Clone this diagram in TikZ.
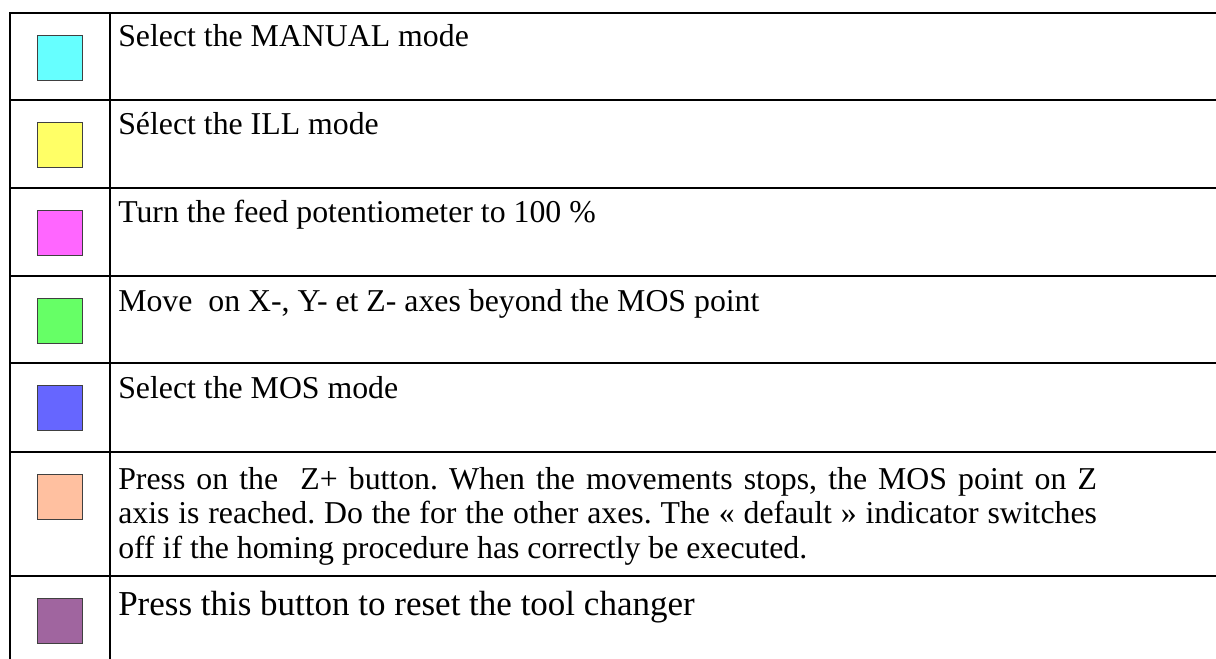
\documentclass[tikz,border=0pt]{standalone}
\usepackage{fontspec}
\setmainfont{Liberation Serif}
\frenchspacing
\definecolor{keycyan}{HTML}{66FFFF}
\definecolor{keyyellow}{HTML}{FFFF66}
\definecolor{keymagenta}{HTML}{FF66FF}
\definecolor{keygreen}{HTML}{66FF66}
\definecolor{keyblue}{HTML}{6666FF}
\definecolor{keypeach}{HTML}{FFC0A0}
\definecolor{keypurple}{HTML}{A0659F}
\begin{document}
\begin{tikzpicture}[x=0.75pt, y=-0.75pt,
    rule/.style={line width=1.1pt, black},
    key/.style={draw=black!75, line width=0.5pt, minimum size=33.75pt, inner sep=0pt, anchor=north west},
    info/.style={anchor=base west, inner sep=0pt, font=\fontsize{23.85}{25.9}\selectfont},
    biginfo/.style={anchor=base west, inner sep=0pt, font=\fontsize{26.25}{30}\selectfont}]
    \useasboundingbox (0,0) rectangle (1216,659);
    % grid of the table
    \draw[rule] (1216,13) -- (10,13) -- (10,659);
    \draw[rule] (110,13) -- (110,659);
    \draw[rule] (10,100) -- (1216,100);
    \draw[rule] (10,188) -- (1216,188);
    \draw[rule] (10,276) -- (1216,276);
    \draw[rule] (10,363) -- (1216,363);
    \draw[rule] (10,452) -- (1216,452);
    \draw[rule] (10,576) -- (1216,576);
    % colour keys
    \node[key, fill=keycyan] (manual) at (37,35) {};
    \node[key, fill=keyyellow] (ill) at (37,122) {};
    \node[key, fill=keymagenta] (feed) at (37,210) {};
    \node[key, fill=keygreen] (move) at (37,298) {};
    \node[key, fill=keyblue] (mos) at (37,385) {};
    \node[key, fill=keypeach] (zplus) at (37,474) {};
    \node[key, fill=keypurple] (reset) at (37,598) {};
    % instructions
    \node[info] (manualtxt) at (118,47) {Select the MANUAL mode};
    \node[info] (illtxt) at (118,135) {Sélect the ILL mode};
    \node[info] (feedtxt) at (118,223) {Turn the feed potentiometer to 100 \%};
    \node[info] (movetxt) at (118,311) {Move\ \ on X-, Y- et Z- axes beyond the MOS point};
    \node[info] (mostxt) at (118,398) {Select the MOS mode};
    \node[info] (zplustxta) at (118,489) {\makebox[734pt][s]{Press on the\ \ Z+ button. When the movements stops, the MOS point on Z}};
    \node[info] (zplustxtb) at (118,523.5) {\makebox[734pt][s]{axis is reached. Do the for the other axes. The « default » indicator switches}};
    \node[info] (zplustxtc) at (118,558) {off if the homing procedure has correctly be executed.};
    \node[biginfo] (resettxt) at (118,615) {Press this button to reset the tool changer};
\end{tikzpicture}
\end{document}
